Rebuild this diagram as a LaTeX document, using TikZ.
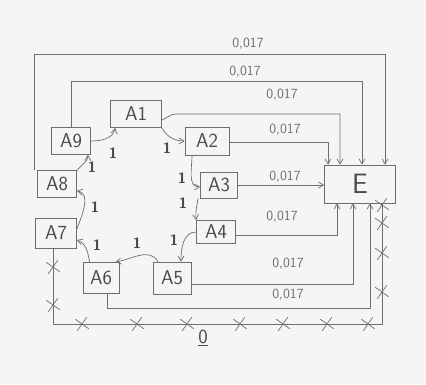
\documentclass[tikz,border=0pt]{standalone}
\usetikzlibrary{arrows.meta,shapes.misc}
\definecolor{pencil}{HTML}{6E6E6E}
\definecolor{lead}{HTML}{4A4A4A}
\definecolor{paper}{HTML}{F5F5F5}
\begin{document}
\begin{tikzpicture}[x=1pt,y=-1pt,
  box/.style={draw=pencil,line width=0.8pt,inner sep=0pt,text=lead,font=\sffamily\fontsize{20}{20}\selectfont},
  flow/.style={draw=pencil,line width=0.7pt,-{Straight Barb[length=5pt,width=6pt]}},
  wire/.style={draw=pencil,line width=0.7pt},
  one/.style={text=lead,font=\sffamily\bfseries\fontsize{15}{15}\selectfont},
  rate/.style={text=pencil,font=\sffamily\fontsize{14}{14}\selectfont},
  xmark/.style={cross out,draw=pencil,line width=0.7pt,minimum size=11pt,inner sep=0pt,rotate=10}]
\fill[paper] (0,0) rectangle (426,384);
\useasboundingbox (0,0) rectangle (426,384);
% nodes
\node[box,minimum width=51pt,minimum height=27pt] (A1) at (136,114) {A1};
\node[box,minimum width=44pt,minimum height=28pt] (A2) at (207,141) {A2};
\node[box,minimum width=37pt,minimum height=26pt] (A3) at (219,185) {A3};
\node[box,minimum width=39pt,minimum height=23pt] (A4) at (216,232) {A4};
\node[box,minimum width=38pt,minimum height=32pt] (A5) at (172,278) {A5};
\node[box,minimum width=36pt,minimum height=31pt] (A6) at (101,278) {A6};
\node[box,minimum width=41pt,minimum height=30pt] (A7) at (56,233) {A7};
\node[box,minimum width=39pt,minimum height=27pt] (A8) at (57,184) {A8};
\node[box,minimum width=39pt,minimum height=27pt] (A9) at (71,141) {A9};
\node[box,minimum width=71pt,minimum height=38pt,font=\sffamily\fontsize{28}{28}\selectfont] (E) at (360,184) {E};
% ring of transitions
\draw[flow] (A9.east) to[out=0,in=-100] ([xshift=5pt]A1.south west);
\draw[flow] (A1.south east) to[out=-60,in=180] (A2.west);
\draw[flow] ([xshift=-15pt]A2.south) to[out=-90,in=180] ([yshift=-2pt]A3.west);
\draw[flow] ([xshift=-2pt]A3.south west) to[out=-100,in=95] (A4.north west);
\draw[flow] (A4.west) to[out=180,in=90] ([xshift=9pt]A5.north);
\draw[flow] ([xshift=-14pt]A5.north) to[out=120,in=10] ([xshift=-4pt]A6.north east);
\draw[flow] ([xshift=7pt]A6.north west) to[out=100,in=-20] ([yshift=-7pt]A7.east);
\draw[flow] ([yshift=4pt]A7.east) to[out=70,in=-10] ([yshift=-7pt]A8.east);
\draw[flow] (A8.north east) to[out=50,in=-90] ([xshift=-3pt]A9.south east);
\node[one] (l91) at (113,153) {1};
\node[one] (l12) at (167,148) {1};
\node[one] (l23) at (182,178) {1};
\node[one] (l34) at (183,203) {1};
\node[one] (l45) at (174,240) {1};
\node[one] (l56) at (137,243) {1};
\node[one] (l67) at (97,245) {1};
\node[one] (l78) at (95,207) {1};
\node[one] (l89) at (92,167) {1};
% flows into E
\draw[flow] ([xshift=-3pt]A8.north west) -- ++(0,-116) -| ([xshift=25pt]E.north);
\draw[flow] (A9.north) -- ++(0,-46) -| ([xshift=2pt]E.north);
\draw[flow] ([yshift=-6pt]A1.east) to[out=20,in=180] ++(14,-6) -| ([xshift=-20pt]E.north);
\draw[flow] ([yshift=-1pt]A2.east) -| ([xshift=-32pt]E.north);
\draw[flow] (A3.east) -- (A3.east -| E.west);
\draw[flow] ([yshift=-3pt]A4.east) -| ([xshift=-23pt]E.south);
\draw[flow] ([yshift=-6pt]A5.east) -| ([xshift=-7pt]E.south);
\draw[flow] ([xshift=6pt]A6.south) -- ++(0,14) -| ([xshift=10pt]E.south);
\node[rate] (r1) at (248,44) {0,017};
\node[rate] (r2) at (245,72) {0,017};
\node[rate] (r3) at (282,95) {0,017};
\node[rate] (r4) at (285,130) {0,017};
\node[rate] (r5) at (285,177) {0,017};
\node[rate] (r6) at (282,217) {0,017};
\node[rate] (r7) at (288,264) {0,017};
\node[rate] (r8) at (288,295) {0,017};
% zero loop
\coordinate (c1) at ([xshift=-3pt]A7.south |- 0,324);
\coordinate (c2) at ([xshift=22pt]E.south |- 0,324);
\draw[wire] ([xshift=-3pt]A7.south) -- (c1) -- (c2) -- ([xshift=22pt]E.south);
\foreach \y in {267,305} \node[xmark] at (53,\y) {};
\foreach \x in {82,137,187,240,283,327,368} \node[xmark] at (\x,324) {};
\foreach \y in {205,223,253,292} \node[xmark] at (382,\y) {};
\node[text=lead,font=\sffamily\fontsize{20}{20}\selectfont] (zero) at (203,338) {\underline{0}};
\end{tikzpicture}
\end{document}
